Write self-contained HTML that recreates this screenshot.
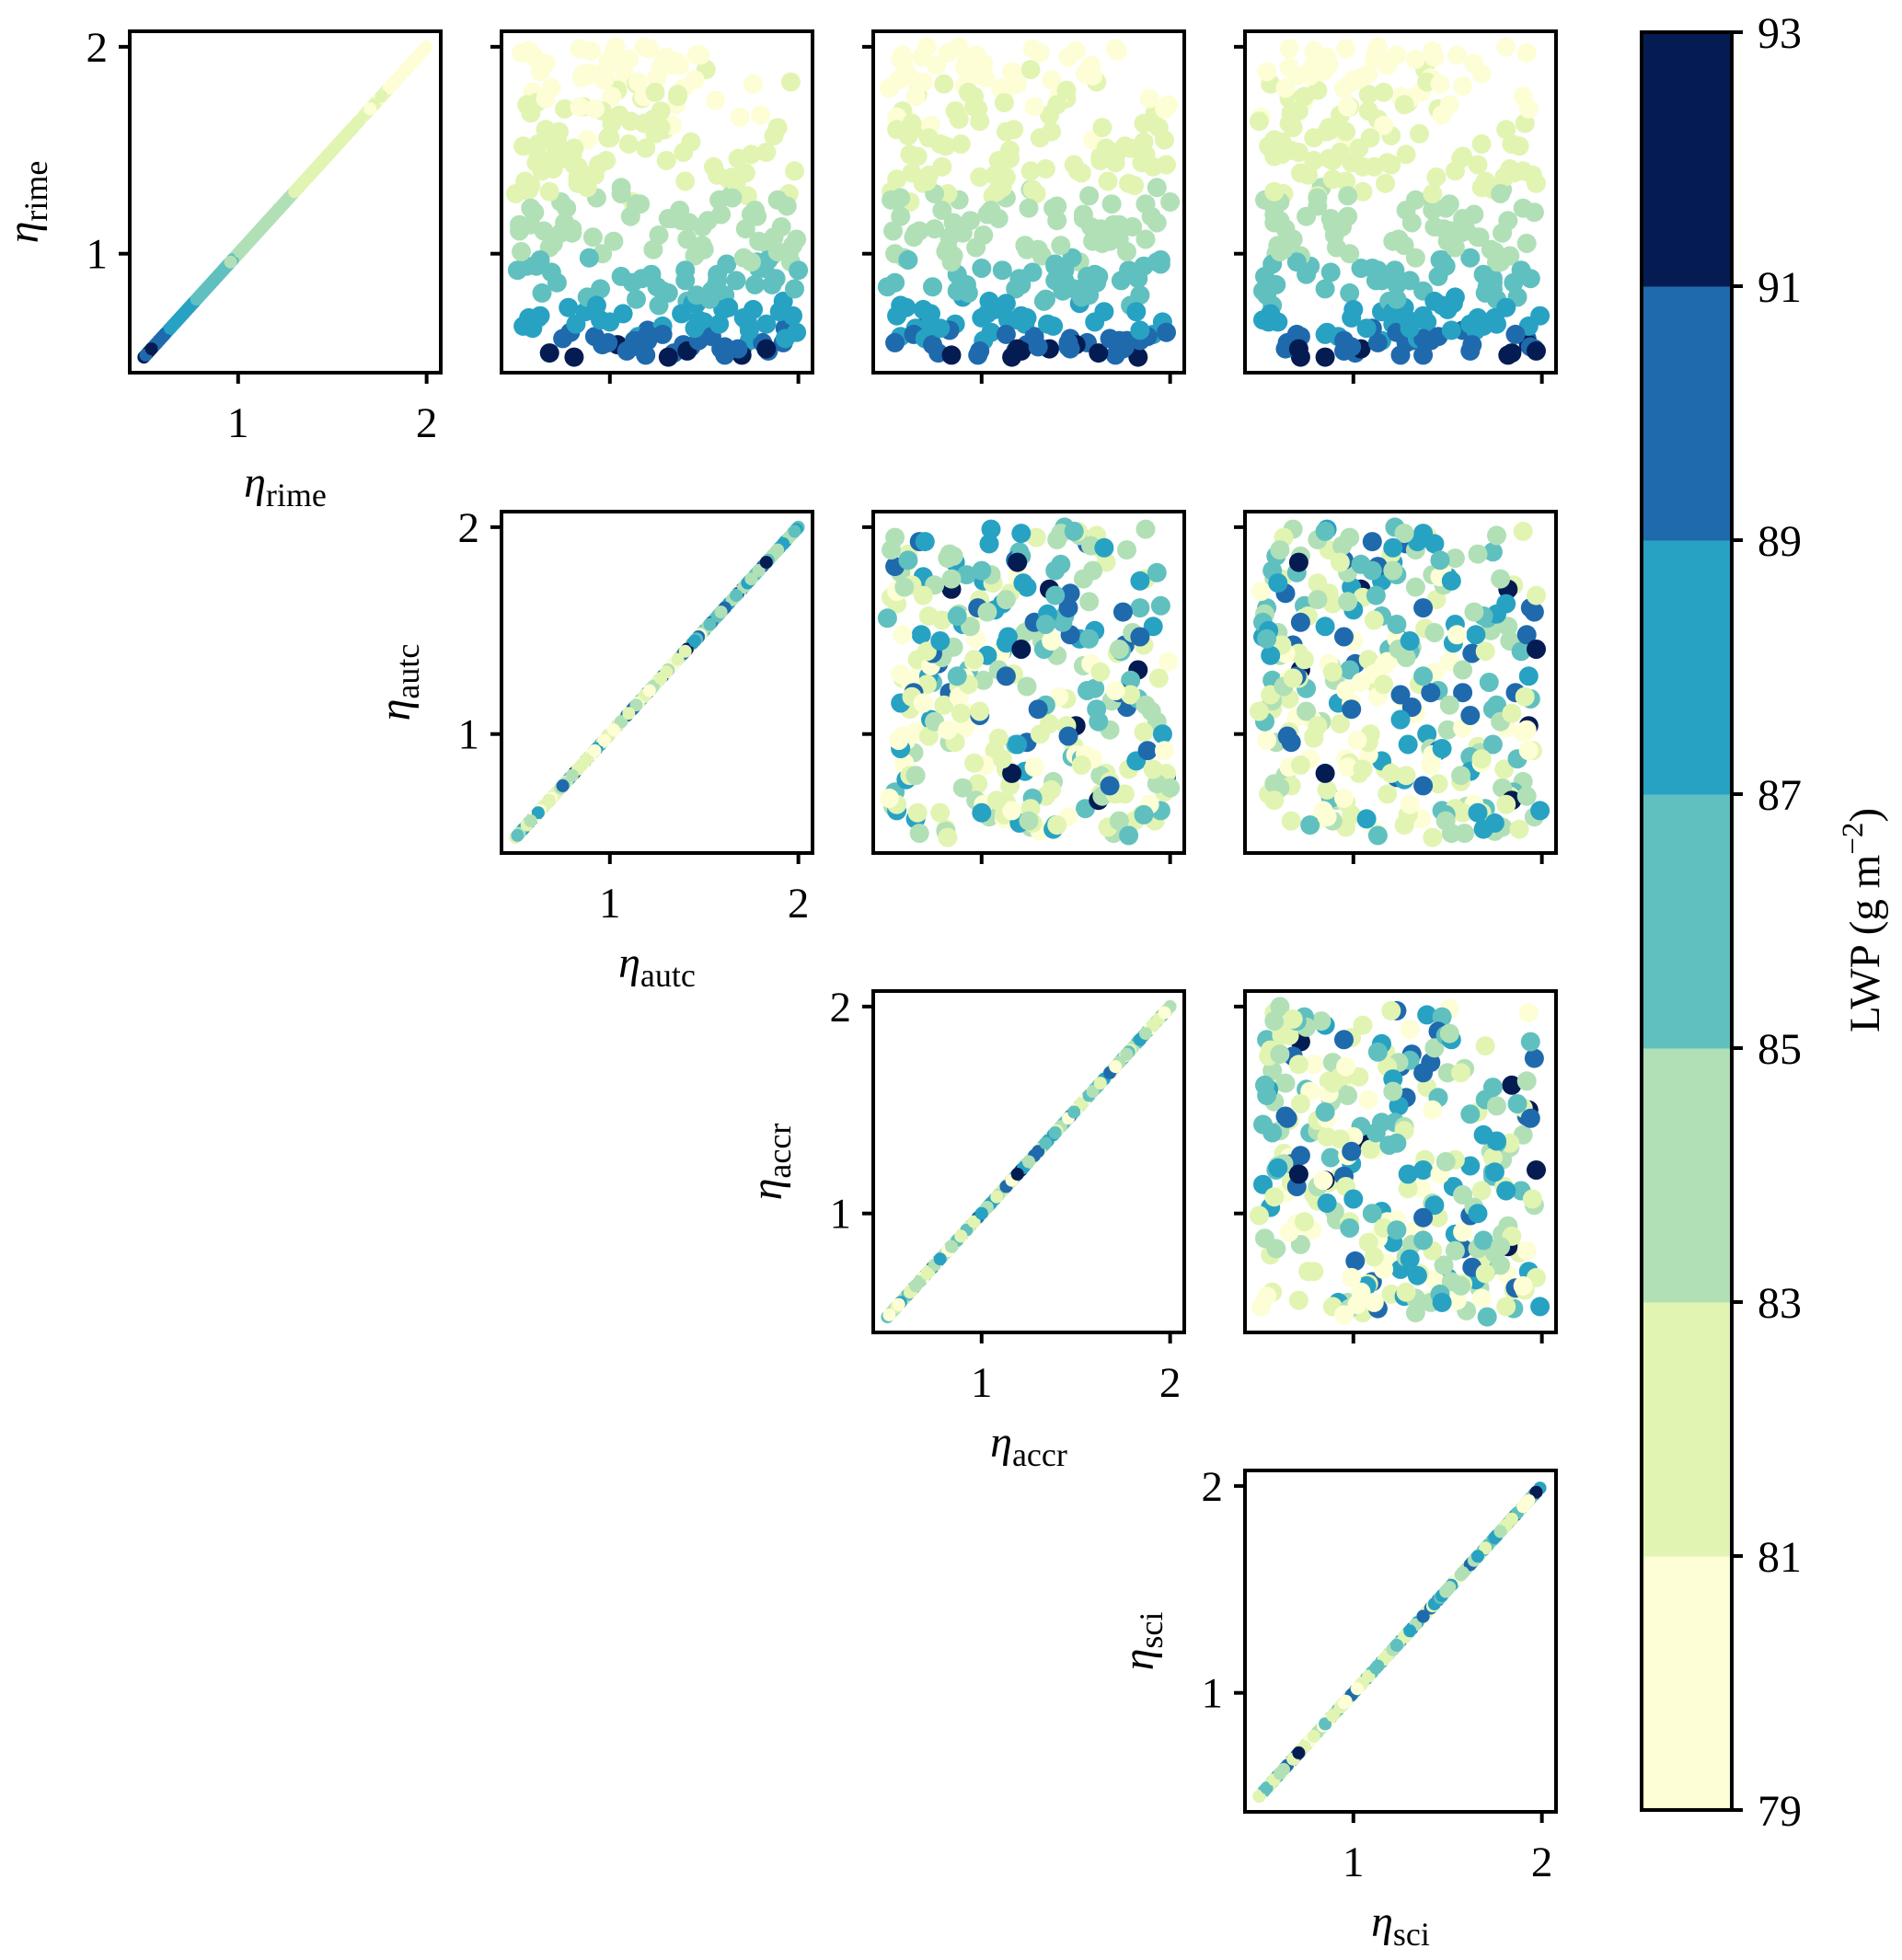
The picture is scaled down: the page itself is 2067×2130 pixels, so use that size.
<!DOCTYPE html>
<html><head><meta charset="utf-8"><style>
html,body{margin:0;padding:0;background:#fff;}
svg{display:block;font-family:"Liberation Serif","DejaVu Serif",serif;}
</style></head><body>
<svg id="fig" width="2067" height="2130" viewBox="0 0 2067 2130" xmlns="http://www.w3.org/2000/svg"></svg>
<script>
// ---- data (parameter values in units of 0.01) ----
const rime = [52,147,88,193,61,120,175,73,134,99,186,57,111,160,80,143,66,198,92,125,54,170,107,84,155,189,70,132,58,116,178,95,63,151,129,200,76,103,167,50,138,87,182,114,69,157,122,55,194,81,146,100,172,64,131,90,185,118,59,163,75,137,197,108,53,149,86,176,126,67,159,96,191,112,79,141,60,183,104,72,153,128,56,195,93,168,115,83,136,51,174,98,65,144,121,188,77,161,110,58,130,199,89,152,68,106,180,62,139,94,165,54,127,85,192,117,71,148,102,171,57,133,190,82,158,113,66,177,97,145,51,124,184,74,140,91,162,119,60,196,78,135,103,169,55,150,87,181,123,64,154,70,187,109,52,142,95,173,118,63,198,81,131,166,58,101,179,73,146,126,56,193,88,159,112,67,137,185,92,53,128,61,175,99,156,76,114,190,84,143,59,167,105,71,182,68,152,116,194,54,129,86,171,107,62,147,96,200,79,138,163,93,57,140,121,186,74,155,100,65,178,113,50,134,89,115,196,82,149,69,164,104,56,187,127,94,176,60,144,108,77,139,183,53,125,98,169,66,151,111,191,85,132,58,160,195,90,63,156,117,72,180,102,51,142,129,80,172,97,61,135,55,188,106,75,161,119,92,197,67,148,83,124,176,59,87,170,64,130,199,110,54,153,78,184,101,69,145,122,96];
const autc = [134,71,188,99,152,60,117,176,83,145,108,192,65,129,161,94,183,57,140,112,170,76,199,125,88,151,63,106,174,138,59,162,120,81,195,103,146,68,180,131,92,157,114,52,171,187,77,143,110,64,168,96,135,193,55,122,85,178,148,101,126,165,53,91,184,139,72,118,158,100,67,196,137,80,153,70,115,196,149,87,62,173,104,130,182,58,142,95,163,119,156,89,128,61,177,97,141,189,74,113,166,84,121,54,147,102,139,79,172,56,123,159,93,186,66,133,107,175,150,86,181,58,107,154,124,191,82,136,63,98,170,116,145,78,198,69,133,175,92,146,114,55,185,127,161,75,140,103,194,59,143,197,86,126,68,155,179,61,111,148,90,131,57,169,120,53,104,160,77,189,96,135,117,73,172,150,83,125,200,109,164,120,66,186,100,144,58,127,156,81,193,105,70,138,176,95,71,152,129,168,50,112,84,141,199,62,178,118,88,157,118,179,99,64,137,88,163,72,195,54,124,149,81,167,106,76,148,128,183,57,111,197,139,90,165,61,101,154,71,187,192,85,115,141,74,171,96,158,119,52,134,177,88,147,66,60,157,174,99,131,190,69,123,161,83,106,146,56,184,128,140,112,63,179,93,127,159,51,102,173,80,198,114,136,75,167,92,145,68,121,80,183,110,153,97,189,62,130,58,175];
const accr = [77,163,120,58,191,104,145,69,178,132,95,156,53,117,184,149,86,172,111,62,136,98,187,74,159,126,55,193,101,140,112,195,83,166,129,71,152,97,59,183,107,144,80,170,124,61,138,176,92,155,115,83,199,67,126,160,102,57,147,186,179,99,131,64,118,172,54,141,88,196,113,152,76,163,90,134,57,161,123,182,78,106,150,68,142,192,85,118,55,171,95,148,72,185,105,60,133,164,90,177,52,127,156,81,114,168,110,198,63,139,88,175,57,121,101,154,73,187,130,96,54,181,92,143,71,158,123,66,195,109,84,169,137,60,151,127,73,154,188,97,134,167,82,58,146,115,174,91,140,65,186,121,59,101,162,79,139,112,190,68,150,93,127,55,173,81,145,107,168,52,124,96,183,137,75,160,113,62,144,99,157,64,189,85,131,113,173,91,50,198,70,136,164,103,119,119,176,94,57,147,82,161,128,173,105,66,193,88,153,72,63,100,146,126,79,159,111,197,54,138,93,180,116,69,162,193,58,87,166,120,99,142,74,155,113,186,65,128,171,83,104,153,69,121,200,59,86,135,179,67,158,92,111,184,55,146,87,184,72,109,165,51,124,98,191,75,157,140,61,113,71,130,116,159,57,194,103,178,82,122,62,149,187,96,168,139,197,78,108,171,65,119,89,134,56,177,100,163,125,84];
const sci = [101,58,174,139,85,196,66,150,117,183,70,128,160,92,54,166,121,79,189,57,104,145,68,172,96,138,199,83,115,61,136,74,158,103,63,181,124,91,147,72,195,115,56,159,99,120,190,68,133,170,87,59,151,110,179,75,141,97,192,66,57,144,112,167,95,71,185,125,53,139,96,176,118,64,154,183,92,139,60,115,168,81,193,143,104,67,131,174,89,125,74,162,193,99,142,54,119,87,179,131,105,66,145,188,52,150,64,123,185,77,113,196,141,59,164,88,125,62,173,98,113,170,78,52,135,94,162,108,147,79,182,57,100,127,190,88,116,58,145,123,176,96,154,71,194,67,130,158,81,107,62,137,168,90,184,111,57,129,75,165,142,98,174,51,141,175,81,100,157,133,67,118,194,86,148,55,180,104,122,162,97,186,130,72,109,153,89,66,171,120,134,93,192,56,146,129,55,182,111,64,142,174,97,124,86,158,70,113,187,76,191,110,65,154,128,77,181,58,98,169,116,143,85,197,53,58,155,137,93,175,50,127,163,108,81,149,190,72,118,166,143,72,99,197,61,133,108,176,56,152,87,123,168,95,181,86,169,152,79,158,121,95,63,137,105,178,54,127,146,70,170,99,84,121,147,68,164,113,192,60,128,85,151,74,137,112,193,130,58,96,157,71,184,123,102,61,166,89,149,178];
const lwp = [90.8,81.9,85.2,80.2,88.6,83.4,81.2,87.1,82.9,84.1,79.8,89.9,84.3,81.0,86.8,82.4,88.9,80.6,86.0,82.5,91.6,81.8,83.5,85.9,80.9,81.3,87.7,83.1,88.2,84.8,80.3,85.1,89.4,81.7,82.0,79.6,87.5,84.6,80.7,92.2,82.6,86.3,81.5,83.0,88.1,81.4,83.9,90.3,80.9,85.6,82.1,84.9,80.5,89.0,83.3,85.4,80.1,83.6,89.6,81.8,86.9,82.3,80.4,84.0,90.1,81.2,86.6,80.8,83.7,88.4,82.0,84.4,79.5,83.2,87.3,81.9,88.8,81.0,84.7,87.9,81.5,82.8,91.1,80.2,85.7,81.3,83.4,86.2,82.7,90.5,80.6,85.3,88.0,82.0,83.8,80.0,86.4,81.6,84.2,89.3,82.4,79.9,85.8,81.1,87.6,84.5,80.7,89.7,82.5,85.0,81.4,90.6,83.1,86.0,80.3,83.5,88.3,82.2,84.8,81.0,89.1,82.9,80.8,86.5,81.3,83.9,88.6,81.7,85.5,81.8,91.8,83.2,80.4,87.2,82.6,85.2,80.9,84.1,89.2,80.0,86.7,82.1,84.3,81.2,90.9,81.6,86.1,80.6,83.6,88.7,81.5,87.4,80.5,84.6,91.3,82.3,85.6,81.1,83.0,88.5,79.7,86.3,82.8,80.8,90.0,84.2,81.2,87.8,81.6,83.4,89.5,80.7,85.7,81.0,84.0,88.2,82.4,80.9,85.3,90.7,83.0,89.1,80.4,84.9,81.9,87.0,83.7,80.1,86.4,82.1,88.9,81.4,84.4,87.6,80.6,88.0,81.8,83.3,80.5,90.4,82.7,85.8,80.9,84.1,88.8,82.0,85.1,80.2,86.9,82.2,81.3,85.4,90.2,82.5,83.1,80.3,87.4,81.7,84.6,88.3,81.0,83.8,91.9,82.6,86.2,83.9,80.6,86.6,81.4,87.9,81.1,84.5,90.6,80.2,83.2,85.5,80.7,89.4,82.3,84.0,87.2,82.1,80.9,91.0,83.5,84.8,81.5,88.7,81.9,83.6,80.4,86.1,82.9,89.8,81.2,79.9,85.9,88.4,81.6,83.7,87.7,80.8,84.7,90.2,82.4,83.0,86.8,81.3,85.0,89.0,82.5,89.9,80.6,84.3,87.0,81.5,83.4,85.6,80.1,88.1,81.8,86.5,83.3,81.0,90.4,86.0,80.7,88.6,82.8,80.3,84.2,91.4,81.3,86.6,80.5,84.5,87.3,82.0,83.5,84.9];
const paramNames = ["rime","autc","accr","sci"];
const cbTicks = [79,81,83,85,87,89,91,93];
const axisTicks = [1,2];

const params = [rime, autc, accr, sci];
const bandColors = ["#fdfed5","#e2f4b2","#b1e0b7","#60c0bf","#28a2c3","#1f6aad","#051c52"];
const colX = [141,545,949,1353], rowY = [34,556,1077,1598];
const PW = 338, PH = 371, LO = 0.425, HI = 2.075;
const NS = "http://www.w3.org/2000/svg";
const svg = document.getElementById("fig");
function mk(tag, attrs, parent){const e=document.createElementNS(NS,tag);for(const k in attrs)e.setAttribute(k,attrs[k]);(parent||svg).appendChild(e);return e;}
function xs(v,c){return colX[c] + (v-LO)/(HI-LO)*PW;}
function ys(v,r){return rowY[r] + PH - (v-LO)/(HI-LO)*PH;}
function colorOf(l){let i=Math.floor((l-79)/2);if(i<0)i=0;if(i>6)i=6;return bandColors[i];}

for(let r=0;r<4;r++){
  for(let c=r;c<4;c++){
    const g = mk("g",{});
    
    
    const clipId = "clip"+r+c;
    const cp = mk("clipPath",{id:clipId},g);
    mk("rect",{x:colX[c],y:rowY[r],width:PW,height:PH},cp);
    const pts = mk("g",{"clip-path":"url(#"+clipId+")"},g);
    const rad = (r===c)?7:10.5;
    for(let k=0;k<lwp.length;k++){
      const xv = params[c][k]/100, yv = params[r][k]/100;
      const d = mk("circle",{cx:xs(xv,c).toFixed(1),cy:ys(yv,r).toFixed(1),r:rad,fill:colorOf(lwp[k])},pts);
      
      
    }
    const fr = mk("rect",{x:colX[c],y:rowY[r],width:PW,height:PH,fill:"none",stroke:"#000","stroke-width":4},g);
    
    
    for(const t of axisTicks){
      const ty = ys(t,r), tx = xs(t,c);
      mk("line",{x1:colX[c]-12,x2:colX[c],y1:ty,y2:ty,stroke:"#000","stroke-width":4},g);
      mk("line",{x1:tx,x2:tx,y1:rowY[r]+PH,y2:rowY[r]+PH+12,stroke:"#000","stroke-width":4},g);
      if(r===c){
        const yl = mk("text",{x:colX[c]-24,y:ty+16,"text-anchor":"end","font-size":47},g);
        yl.textContent = t;
        
        
        const xl = mk("text",{x:tx,y:rowY[r]+PH+70,"text-anchor":"middle","font-size":47},g);
        xl.textContent = t;
        
        
      }
    }
    if(r===c){
      const cx = colX[c]+PW/2, by = rowY[r]+PH+135;
      const xt = mk("text",{x:cx,y:by,"text-anchor":"middle","font-size":48},g);
      xt.innerHTML = '<tspan font-style="italic">η</tspan><tspan font-size="36" dy="10">'+paramNames[c]+'</tspan>';
      
      
      const lx = colX[c]-100, ly = rowY[r]+PH/2;
      const yt = mk("text",{x:0,y:0,"text-anchor":"middle","font-size":48,transform:"translate("+lx+","+ly+") rotate(-90)"},g);
      yt.innerHTML = '<tspan font-style="italic">η</tspan><tspan font-size="36" dy="10">'+paramNames[r]+'</tspan>';
      
      
    }
  }
}

// colorbar
const cbX = 1784, cbW = 98, cbTop = 35, cbBot = 1967;
function cby(v){return cbBot - (v-79)/(93-79)*(cbBot-cbTop);}
const cb = mk("g",{});


for(let i=0;i<bandColors.length;i++){
  const b = mk("rect",{x:cbX,y:cby(cbTicks[i+1]),width:cbW,height:cby(cbTicks[i])-cby(cbTicks[i+1])+0.5,fill:bandColors[i]},cb);
  
  
}
mk("rect",{x:cbX,y:cbTop,width:cbW,height:cbBot-cbTop,fill:"none",stroke:"#000","stroke-width":4},cb);
for(const t of cbTicks){
  const y = cby(t);
  mk("line",{x1:cbX+cbW,x2:cbX+cbW+12,y1:y,y2:y,stroke:"#000","stroke-width":4},cb);
  const tl = mk("text",{x:cbX+cbW+28,y:y+17,"font-size":48},cb);
  tl.textContent = t;
  
  
}
const cbl = mk("text",{x:0,y:0,"text-anchor":"middle","font-size":47,transform:"translate(2042,1000) rotate(-90)"},cb);
cbl.innerHTML = 'LWP (g m<tspan font-size="33" dy="-18">−2</tspan><tspan dy="18">)</tspan>';


</script>
</body></html>
